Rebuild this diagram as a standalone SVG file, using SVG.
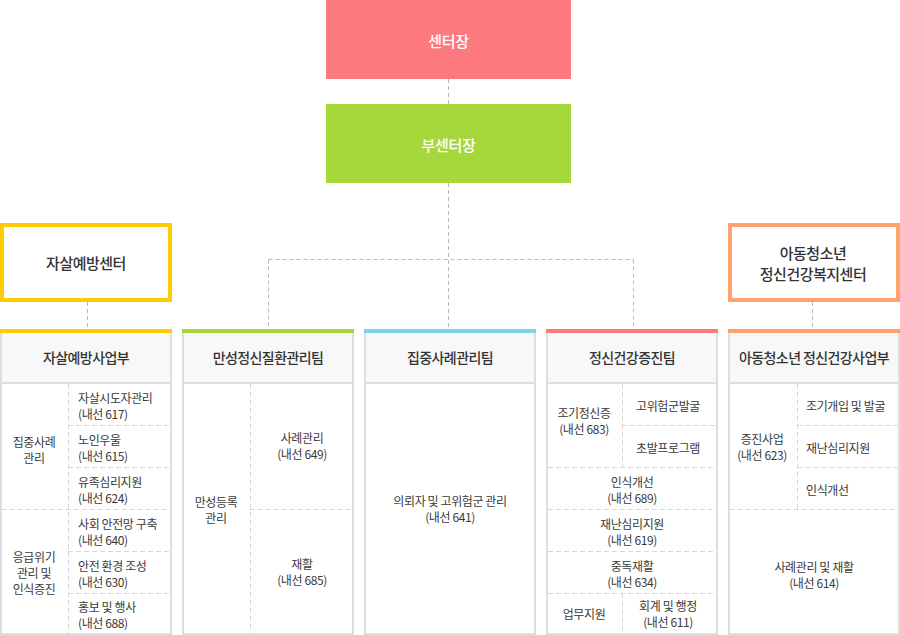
<svg xmlns="http://www.w3.org/2000/svg" width="900" height="635" viewBox="0 0 900 635">
<style>
text{font-family:"Noto Sans CJK KR","Noto Sans",sans-serif;dominant-baseline:central}
.top{fill:#fff;font-size:15px;text-anchor:middle;letter-spacing:-0.3px;font-weight:500}
.ctr{fill:#333;font-size:15px;text-anchor:middle;letter-spacing:-0.5px;font-weight:500}
.hd{fill:#333;font-size:14px;text-anchor:middle;letter-spacing:-0.6px;font-weight:500}
.t{fill:#3a3a3a;font-size:12px;letter-spacing:-0.4px}
.m{text-anchor:middle}
.colbox{fill:#fff;stroke:#dedede;stroke-width:2}
.hbg{fill:#f8f8f8}
.hline{stroke:#dedede;stroke-width:2}
.dash{stroke:#d8d8d8;stroke-width:1;stroke-dasharray:5 3;fill:none}
.conn{stroke:#bbbbbb;stroke-width:1;stroke-dasharray:4 3;fill:none}
</style>
<g id="connectors">
<line class="conn" x1="448.5" y1="79" x2="448.5" y2="104"/>
<line class="conn" x1="448.5" y1="183" x2="448.5" y2="329"/>
<line class="conn" x1="268.5" y1="259.5" x2="633.5" y2="259.5"/>
<line class="conn" x1="268.5" y1="259.5" x2="268.5" y2="329"/>
<line class="conn" x1="633.5" y1="259.5" x2="633.5" y2="329"/>
<line class="conn" x1="87.5" y1="302" x2="87.5" y2="329"/>
<line class="conn" x1="812.5" y1="302" x2="812.5" y2="329"/>
</g>
<g id="director">
<rect x="326" y="0" width="245" height="79" fill="#fc797d"/>
<text class="top" x="448.5" y="40">센터장</text>
</g>
<g id="deputy">
<rect x="326" y="104" width="245" height="79" fill="#a6d83b"/>
<text class="top" x="448.5" y="144">부센터장</text>
</g>
<g id="suicide-center">
<rect x="2" y="225" width="168" height="75" fill="#fff" stroke="#ffcc00" stroke-width="4"/>
<text class="ctr" x="86" y="262">자살예방센터</text>
</g>
<g id="youth-center">
<rect x="730" y="225" width="168" height="75" fill="#fff" stroke="#ffa26b" stroke-width="4"/>
<text class="ctr" x="813" y="252">아동청소년</text>
<text class="ctr" x="813" y="273">정신건강복지센터</text>
</g>
<g id="col-suicide">
<rect class="colbox" x="1" y="330" width="170" height="304"/>
<rect class="hbg" x="2" y="333" width="168" height="49"/>
<line class="hline" x1="2" y1="383" x2="170" y2="383"/>
<rect x="0" y="329" width="172" height="4" fill="#ffcc00"/>
<text class="hd" x="86" y="357">자살예방사업부</text>
<line class="dash" x1="68.5" y1="384" x2="68.5" y2="633"/>
<line class="dash" x1="68" y1="425.5" x2="170" y2="425.5"/>
<line class="dash" x1="68" y1="467.5" x2="170" y2="467.5"/>
<line class="dash" x1="2" y1="509.5" x2="170" y2="509.5"/>
<line class="dash" x1="68" y1="551.5" x2="170" y2="551.5"/>
<line class="dash" x1="68" y1="593.5" x2="170" y2="593.5"/>
<text class="t m" x="34" y="441">집중사례</text>
<text class="t m" x="34" y="457">관리</text>
<text class="t m" x="34" y="556">응급위기</text>
<text class="t m" x="34" y="572">관리 및</text>
<text class="t m" x="34" y="588">인식증진</text>
<text class="t" x="78" y="397">자살시도자관리</text>
<text class="t" x="78" y="413">(내선 617)</text>
<text class="t" x="78" y="439">노인우울</text>
<text class="t" x="78" y="455">(내선 615)</text>
<text class="t" x="78" y="481">유족심리지원</text>
<text class="t" x="78" y="497">(내선 624)</text>
<text class="t" x="78" y="523">사회 안전망 구축</text>
<text class="t" x="78" y="539">(내선 640)</text>
<text class="t" x="78" y="565">안전 환경 조성</text>
<text class="t" x="78" y="581">(내선 630)</text>
<text class="t" x="78" y="606">홍보 및 행사</text>
<text class="t" x="78" y="622">(내선 688)</text>
</g>
<g id="col-chronic">
<rect class="colbox" x="183" y="330" width="170" height="304"/>
<rect class="hbg" x="184" y="333" width="168" height="49"/>
<line class="hline" x1="184" y1="383" x2="352" y2="383"/>
<rect x="182" y="329" width="172" height="4" fill="#a6d83b"/>
<text class="hd" x="268" y="357">만성정신질환관리팀</text>
<line class="dash" x1="250.5" y1="384" x2="250.5" y2="633"/>
<line class="dash" x1="250" y1="509.5" x2="352" y2="509.5"/>
<text class="t m" x="216" y="501">만성등록</text>
<text class="t m" x="216" y="517">관리</text>
<text class="t m" x="302" y="437">사례관리</text>
<text class="t m" x="302" y="453">(내선 649)</text>
<text class="t m" x="302" y="563">재활</text>
<text class="t m" x="302" y="579">(내선 685)</text>
</g>
<g id="col-intensive">
<rect class="colbox" x="365" y="330" width="170" height="304"/>
<rect class="hbg" x="366" y="333" width="168" height="49"/>
<line class="hline" x1="366" y1="383" x2="534" y2="383"/>
<rect x="364" y="329" width="172" height="4" fill="#7dd3ea"/>
<text class="hd" x="450" y="357">집중사례관리팀</text>
<text class="t m" x="450" y="500">의뢰자 및 고위험군 관리</text>
<text class="t m" x="450" y="516">(내선 641)</text>
</g>
<g id="col-promotion">
<rect class="colbox" x="547" y="330" width="170" height="304"/>
<rect class="hbg" x="548" y="333" width="168" height="49"/>
<line class="hline" x1="548" y1="383" x2="716" y2="383"/>
<rect x="546" y="329" width="172" height="4" fill="#fc797d"/>
<text class="hd" x="632" y="357">정신건강증진팀</text>
<line class="dash" x1="622.5" y1="384" x2="622.5" y2="467"/>
<line class="dash" x1="622.5" y1="593" x2="622.5" y2="633"/>
<line class="dash" x1="622" y1="425.5" x2="716" y2="425.5"/>
<line class="dash" x1="548" y1="467.5" x2="716" y2="467.5"/>
<line class="dash" x1="548" y1="509.5" x2="716" y2="509.5"/>
<line class="dash" x1="548" y1="551.5" x2="716" y2="551.5"/>
<line class="dash" x1="548" y1="593.5" x2="716" y2="593.5"/>
<text class="t m" x="584" y="412">조기정신증</text>
<text class="t m" x="584" y="428">(내선 683)</text>
<text class="t m" x="668" y="405">고위험군발굴</text>
<text class="t m" x="668" y="447">초발프로그램</text>
<text class="t m" x="632" y="481">인식개선</text>
<text class="t m" x="632" y="497">(내선 689)</text>
<text class="t m" x="632" y="523">재난심리지원</text>
<text class="t m" x="632" y="539">(내선 619)</text>
<text class="t m" x="632" y="565">중독재활</text>
<text class="t m" x="632" y="581">(내선 634)</text>
<text class="t m" x="584" y="613">업무지원</text>
<text class="t m" x="668" y="605">회계 및 행정</text>
<text class="t m" x="668" y="621">(내선 611)</text>
</g>
<g id="col-youth">
<rect class="colbox" x="729" y="330" width="170" height="304"/>
<rect class="hbg" x="730" y="333" width="168" height="49"/>
<line class="hline" x1="730" y1="383" x2="898" y2="383"/>
<rect x="728" y="329" width="172" height="4" fill="#ffa26b"/>
<text class="hd" x="814" y="357">아동청소년 정신건강사업부</text>
<line class="dash" x1="797.5" y1="384" x2="797.5" y2="509"/>
<line class="dash" x1="797" y1="425.5" x2="898" y2="425.5"/>
<line class="dash" x1="797" y1="467.5" x2="898" y2="467.5"/>
<line class="dash" x1="730" y1="509.5" x2="898" y2="509.5"/>
<text class="t m" x="762" y="438">증진사업</text>
<text class="t m" x="762" y="454">(내선 623)</text>
<text class="t" x="806" y="405">조기개입 및 발굴</text>
<text class="t" x="806" y="447">재난심리지원</text>
<text class="t" x="806" y="489">인식개선</text>
<text class="t m" x="814" y="566">사례관리 및 재활</text>
<text class="t m" x="814" y="582">(내선 614)</text>
</g>
</svg>
